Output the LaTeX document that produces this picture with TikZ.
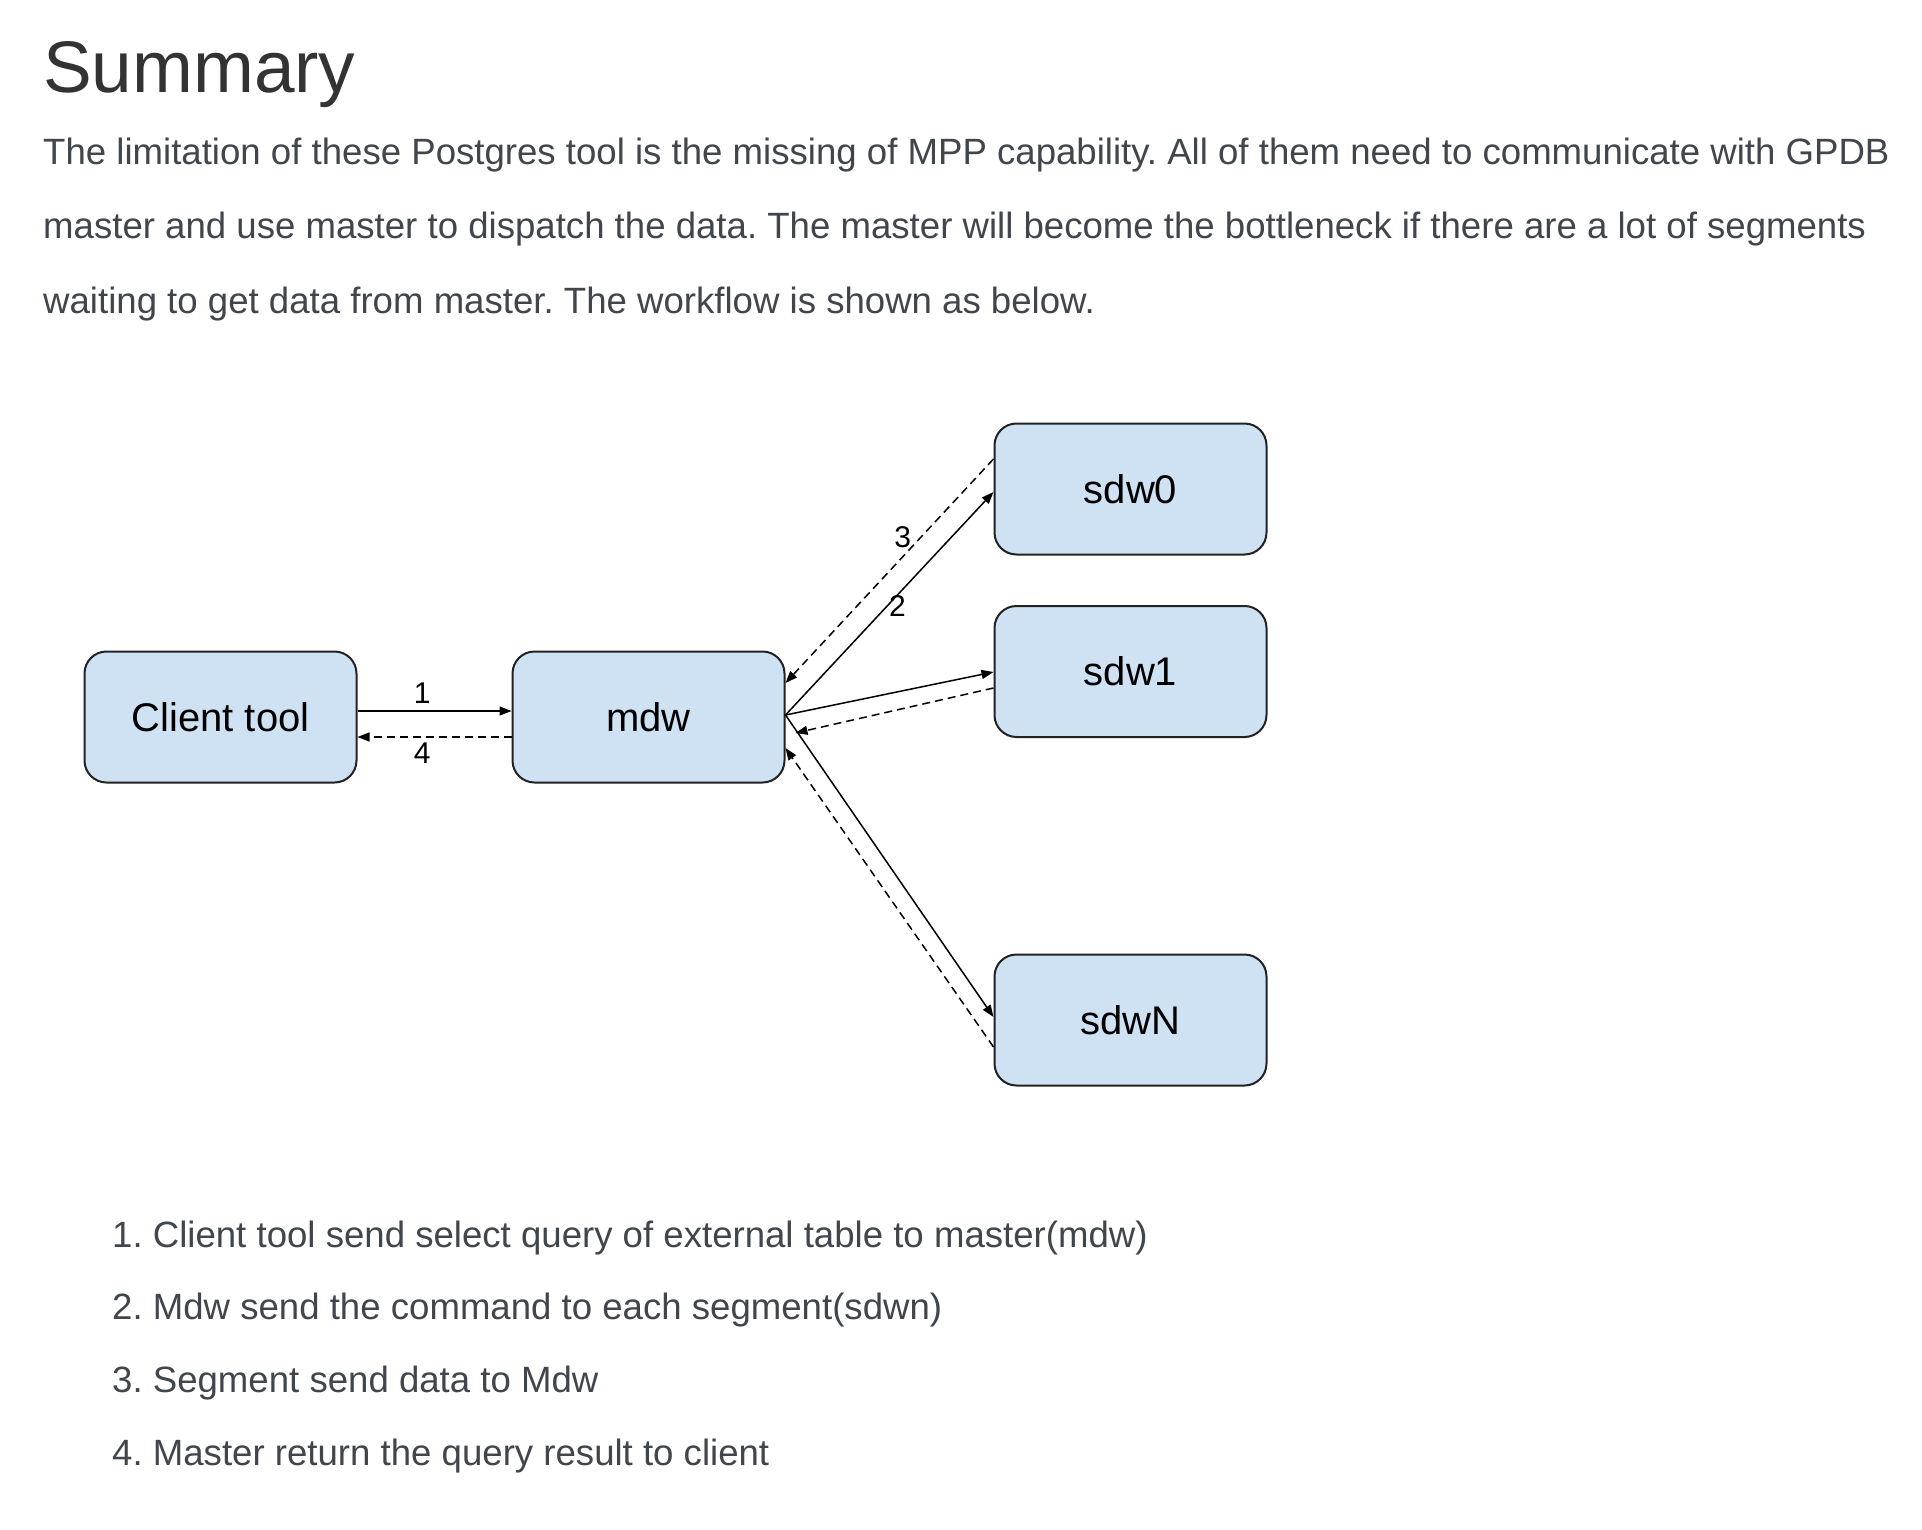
\documentclass[tikz,border=0pt]{standalone}
\usepackage{fontspec}
\setmainfont{Liberation Sans}
\usetikzlibrary{arrows.meta,calc}
\definecolor{txt}{HTML}{41464C}
\definecolor{titlecol}{HTML}{333333}
\definecolor{boxfill}{HTML}{CFE2F3}
\definecolor{boxline}{HTML}{222222}
\frenchspacing
\begin{document}
\begin{tikzpicture}[x=1pt,y=-1pt,
  box/.style={draw=boxline, line width=2pt, fill=boxfill, rounded corners=22pt,
    minimum width=272pt, minimum height=131pt, inner sep=0pt,
    font=\fontsize{40}{48}\selectfont},
  conn/.style={line width=1.5pt, draw=black, -{Triangle[length=12pt,width=9pt]}},
  dconn/.style={conn, dash pattern=on 8pt off 5pt},
  lbl/.style={inner sep=0pt, font=\fontsize{30}{36}\selectfont},
  para/.style={anchor=base west, inner sep=0pt, text=txt, font=\fontsize{36.6}{44}\selectfont},
  ttl/.style={anchor=base west, inner sep=0pt, text=titlecol, font=\fontsize{73}{88}\selectfont}]
\fill[white] (0,0) rectangle (1922,1530);
\useasboundingbox (0,0) rectangle (1922,1530);

% Texts
\node[ttl] (title) at (43,93) {Summary};
\node[para] (p1) at (43,165) {The limitation of these Postgres tool is the missing of MPP capability. All of them need to communicate with GPDB};
\node[para] (p2) at (43,239) {master and use master to dispatch the data. The master will become the bottleneck if there are a lot of segments};
\node[para] (p3) at (43,313) {waiting to get data from master. The workflow is shown as below.};

\node[para] (l1) at (112,1247) {1. Client tool send select query of external table to master(mdw)};
\node[para] (l2) at (112,1319) {2. Mdw send the command to each segment(sdwn)};
\node[para] (l3) at (112,1392) {3. Segment send data to Mdw};
\node[para] (l4) at (112,1465) {4. Master return the query result to client};

% Boxes
\node[box] (ct) at (220.5,717) {Client tool};
\node[box] (mdw) at (648.5,717) {mdw};
\node[box] (s0) at (1130.5,489) {sdw0};
\node[box] (s1) at (1130.5,671.5) {sdw1};
\node[box] (sN) at (1130.5,1020) {sdwN};

% Connectors
\draw[conn] ([yshift=6pt]ct.east) -- node[lbl, pos=0.42, yshift=18pt] {1} ([yshift=6pt]mdw.west);
\draw[dconn] ([yshift=-20pt]mdw.west) -- node[lbl, pos=0.58, yshift=-16pt] {4} ([yshift=-20pt]ct.east);

\draw[conn] ([yshift=2pt]mdw.east) -- node[lbl, pos=0.49, xshift=10pt] {2} ([yshift=-3pt]s0.west);
\draw[conn] ([yshift=2pt]mdw.east) -- ([yshift=-0.5pt]s1.west);
\draw[conn] ([yshift=2pt]mdw.east) -- ([yshift=3pt]sN.west);

\draw[dconn] ([yshift=30pt]s0.west) -- node[lbl, pos=0.35, xshift=-18pt] {3} ([yshift=34pt]mdw.east);
\draw[dconn] ([yshift=-16.5pt]s1.west) -- ([xshift=10pt,yshift=-16pt]mdw.east);
\draw[dconn] ([yshift=-27pt]sN.west) -- ([yshift=-31pt]mdw.east);
\end{tikzpicture}
\end{document}
